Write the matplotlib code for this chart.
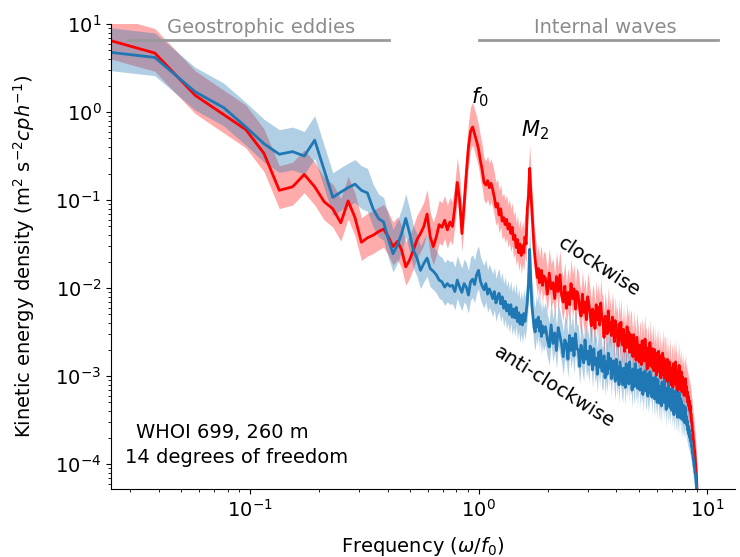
import numpy as np
import matplotlib
matplotlib.use("Agg")
import matplotlib.pyplot as plt

# ---------------- data ----------------
df = 0.0192  # frequency resolution in omega/f0
k_low = np.arange(1, 101)
k_high = np.arange(102, 471, 2)
freq = df * np.concatenate([k_low, k_high])

# log10 of kinetic energy density, clockwise (red)
cw_low = [
    0.89, 0.67, 0.19, -0.03, -0.20, -0.47, -0.89, -0.85, -0.71, -0.85,
    -1.02, -1.10, -1.26, -1.01, -1.20, -1.48, -1.43, -1.40, -1.36, -1.33,
    -1.42, -1.53, -1.47, -1.57, -1.76, -1.68, -1.57, -1.45, -1.38, -1.30,
    -1.16, -1.42, -1.53, -1.42, -1.28, -1.31, -1.23, -1.34, -1.25, -1.30,
    -1.08, -0.80, -1.00, -1.38, -1.05, -0.70, -0.40, -0.22, -0.17, -0.25,
    -0.33, -0.42, -0.55, -0.66, -0.80, -0.83, -0.78, -0.86, -0.81, -0.88,
    -0.97, -1.08, -1.04, -1.17, -1.10, -1.24, -1.20, -1.28, -1.22, -1.33,
    -1.27, -1.38, -1.31, -1.45, -1.40, -1.54, -1.45, -1.60, -1.50, -1.63,
    -1.52, -1.60, -1.42, -1.50, -1.10, -0.95, -0.64, -0.90, -1.12, -1.32,
    -1.55, -1.68, -1.78, -1.88, -1.78, -1.94, -1.84, -1.80, -1.97, -1.86,
]
cw_high = [
    -1.89, -2.07, -1.83, -2.01, -1.94, -2.12, -1.87, -2.04, -1.85, -2.08,
    -2.16, -1.98, -2.23, -2.05, -2.19, -1.95, -2.12, -2.01, -2.24, -2.04,
    -2.09, -2.23, -2.32, -2.07, -2.28, -2.16, -2.36, -2.10, -2.19, -2.29,
    -2.43, -2.24, -2.29, -2.46, -2.19, -2.36, -2.22, -2.42, -2.17, -2.34,
    -2.37, -2.56, -2.32, -2.44, -2.52, -2.26, -2.48, -2.39, -2.54, -2.33,
    -2.43, -2.61, -2.37, -2.55, -2.48, -2.66, -2.41, -2.58, -2.39, -2.62,
    -2.65, -2.47, -2.72, -2.54, -2.68, -2.44, -2.61, -2.50, -2.73, -2.53,
    -2.55, -2.69, -2.78, -2.53, -2.74, -2.62, -2.82, -2.56, -2.65, -2.75,
    -2.84, -2.65, -2.70, -2.87, -2.60, -2.77, -2.63, -2.83, -2.58, -2.75,
    -2.73, -2.92, -2.68, -2.80, -2.88, -2.62, -2.84, -2.75, -2.90, -2.69,
    -2.76, -2.94, -2.70, -2.88, -2.81, -2.99, -2.74, -2.91, -2.72, -2.95,
    -2.95, -2.77, -3.02, -2.84, -2.98, -2.74, -2.91, -2.80, -3.03, -2.83,
    -2.83, -2.97, -3.06, -2.81, -3.02, -2.90, -3.10, -2.84, -2.93, -3.03,
    -3.10, -2.91, -2.96, -3.13, -2.86, -3.03, -2.89, -3.09, -2.84, -3.01,
    -2.99, -3.18, -2.94, -3.06, -3.14, -2.88, -3.10, -3.01, -3.16, -2.95,
    -3.05, -3.18, -3.01, -3.14, -3.09, -3.22, -3.04, -3.16, -3.03, -3.19,
    -3.12, -3.24, -3.18, -3.30, -3.23, -3.34, -3.28, -3.39, -3.33, -3.42,
    -3.43, -3.52, -3.53, -3.62, -3.63, -3.72, -3.74, -3.82, -3.85, -3.92,
    -3.98, -4.06, -4.12, -4.22, -4.35,
]

# log10 of kinetic energy density, anti-clockwise (blue)
acw_low = [
    0.71, 0.62, 0.23, 0.05, -0.17, -0.36, -0.48, -0.45, -0.50, -0.32,
    -0.66, -0.97, -0.91, -0.86, -0.82, -0.89, -0.92, -1.10, -1.21, -1.25,
    -1.45, -1.61, -1.51, -1.38, -1.21, -1.38, -1.57, -1.66, -1.80, -1.72,
    -1.66, -1.78, -1.81, -1.85, -1.91, -1.93, -1.99, -1.95, -1.98, -1.97,
    -2.04, -1.91, -1.99, -2.05, -1.95, -1.99, -2.08, -1.93, -1.90, -1.96,
    -1.85, -1.80, -1.92, -1.98, -2.02, -1.95, -2.07, -2.01, -2.06, -2.12,
    -2.04, -2.17, -2.10, -2.06, -2.18, -2.10, -2.23, -2.15, -2.26, -2.19,
    -2.30, -2.19, -2.33, -2.24, -2.34, -2.22, -2.38, -2.28, -2.41, -2.31,
    -2.42, -2.29, -2.38, -2.28, -2.15, -1.95, -1.56, -1.92, -2.20, -2.32,
    -2.45, -2.50, -2.36, -2.44, -2.33, -2.49, -2.38, -2.55, -2.43, -2.51,
]
acw_high = [
    -2.44, -2.58, -2.67, -2.42, -2.63, -2.51, -2.71, -2.45, -2.54, -2.64,
    -2.78, -2.59, -2.64, -2.81, -2.54, -2.71, -2.57, -2.77, -2.52, -2.69,
    -2.70, -2.89, -2.65, -2.77, -2.85, -2.59, -2.81, -2.72, -2.87, -2.66,
    -2.75, -2.93, -2.69, -2.87, -2.80, -2.98, -2.73, -2.90, -2.71, -2.94,
    -2.95, -2.77, -3.02, -2.84, -2.98, -2.74, -2.91, -2.80, -3.03, -2.83,
    -2.83, -2.97, -3.06, -2.81, -3.02, -2.90, -3.10, -2.84, -2.93, -3.03,
    -3.10, -2.91, -2.96, -3.13, -2.86, -3.03, -2.89, -3.09, -2.84, -3.01,
    -2.97, -3.16, -2.92, -3.04, -3.12, -2.86, -3.08, -2.99, -3.14, -2.93,
    -2.98, -3.16, -2.92, -3.10, -3.03, -3.21, -2.96, -3.13, -2.94, -3.17,
    -3.16, -2.98, -3.23, -3.05, -3.19, -2.95, -3.12, -3.01, -3.24, -3.04,
    -3.03, -3.17, -3.26, -3.01, -3.22, -3.10, -3.30, -3.04, -3.13, -3.23,
    -3.31, -3.12, -3.17, -3.34, -3.07, -3.24, -3.10, -3.30, -3.05, -3.22,
    -3.19, -3.38, -3.14, -3.26, -3.34, -3.08, -3.30, -3.21, -3.36, -3.15,
    -3.21, -3.39, -3.15, -3.33, -3.26, -3.44, -3.19, -3.36, -3.17, -3.40,
    -3.40, -3.22, -3.47, -3.29, -3.43, -3.19, -3.36, -3.25, -3.48, -3.28,
    -3.34, -3.44, -3.50, -3.33, -3.48, -3.39, -3.53, -3.35, -3.41, -3.48,
    -3.46, -3.56, -3.51, -3.62, -3.57, -3.66, -3.61, -3.70, -3.66, -3.74,
    -3.73, -3.80, -3.80, -3.88, -3.89, -3.95, -3.97, -4.03, -4.05, -4.10,
    -4.12, -4.17, -4.21, -4.28, -4.38,
]

ci_low, ci_high = 0.62, 1.9  # confidence-band factors (14 dof)

cw = 10.0 ** np.array(cw_low + cw_high)
acw = 10.0 ** np.array(acw_low + acw_high)

# ---------------- figure ----------------
plt.rcParams['font.family'] = ['DejaVu Sans']
plt.rcParams['font.size'] = 14

fig = plt.figure(figsize=(7.4, 5.57), dpi=100)
ax = fig.add_axes([0.15, 0.1221, 0.8432, 0.8348])

red = '#ff0000'
blue = '#1f77b4'
ax.fill_between(freq, cw * ci_low, cw * ci_high, color=red, alpha=0.33, lw=0)
ax.fill_between(freq, acw * ci_low, acw * ci_high, color=blue, alpha=0.35, lw=0)
ax.plot(freq, cw, color=red, lw=2)
ax.plot(freq, acw, color=blue, lw=2)

ax.set_xscale('log')
ax.set_yscale('log')
ax.set_xlim(0.0247, 13.2)
ax.set_ylim(5.2e-5, 10)
for s in ['top', 'right']:
    ax.spines[s].set_visible(False)
ax.tick_params(labelsize=14)

ax.set_xlabel(r'Frequency ($\omega/f_0$)', fontsize=14, labelpad=10)
ax.set_ylabel(r'Kinetic energy density (m$^2$ s$^{-2}$$cph^{-1}$)', fontsize=14,
              labelpad=13)

# regime bars
gray = '#999999'
ax.plot([0.0292, 0.404], [6.58, 6.58], color=gray, lw=2, clip_on=False)
ax.plot([1.0, 11.1], [6.58, 6.58], color=gray, lw=2, clip_on=False)
ax.text(0.1117, 8.0, 'Geostrophic eddies', color='#8c8c8c', ha='center',
        va='baseline', fontsize=14)
ax.text(3.58, 8.0, 'Internal waves', color='#8c8c8c', ha='center',
        va='baseline', fontsize=14)

ax.text(1.015, 1.48, r'$f_0$', ha='center', va='center', fontsize=15)
ax.text(1.766, 0.624, r'$M_2$', ha='center', va='center', fontsize=15)
ax.text(3.37, 0.0173, 'clockwise', rotation=-33, ha='center', va='center',
        rotation_mode='anchor', fontsize=14)
ax.text(2.14, 7.5e-4, 'anti-clockwise', rotation=-32, ha='center', va='center',
        rotation_mode='anchor', fontsize=14)

fig.text(136 / 740, 1 - 438 / 557, 'WHOI 699, 260 m', ha='left', va='baseline', fontsize=14)
fig.text(125 / 740, 1 - 463 / 557, '14 degrees of freedom', ha='left', va='baseline', fontsize=14)

fig.savefig('out.png', dpi=100)
